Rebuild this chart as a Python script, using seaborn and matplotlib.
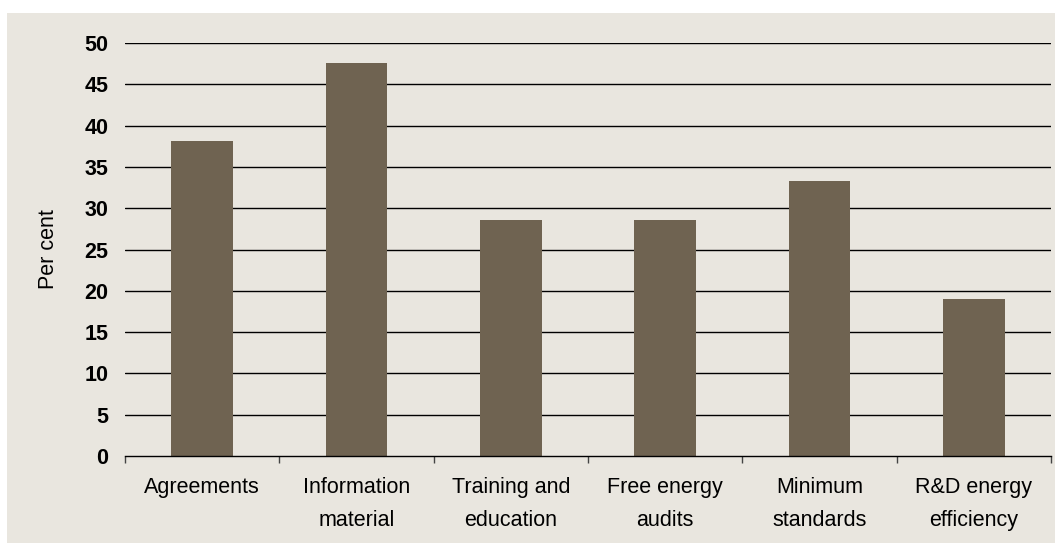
import numpy as np
import pandas as pd
import matplotlib
matplotlib.use("Agg")
import matplotlib.pyplot as plt
import seaborn as sns
from matplotlib.patches import Rectangle

categories = ["Agreements", "Information\nmaterial", "Training and\neducation",
              "Free energy\naudits", "Minimum\nstandards", "R&D energy\nefficiency"]
per_cent = [38.1, 47.6, 28.6, 28.6, 33.3, 19.0]
y_ticks = [0, 5, 10, 15, 20, 25, 30, 35, 40, 45, 50]

df = pd.DataFrame({"category": categories, "per_cent": per_cent})

sns.set_style("white")
plt.rcParams['font.family'] = ['Liberation Sans', 'DejaVu Sans']

bg = "#E9E6DF"
bar_col = "#6F6351"

fig = plt.figure(figsize=(10.55, 5.43), dpi=100, facecolor="white")
# beige panel behind the chart (top strip stays white)
fig.patches.append(Rectangle((7 / 1055, 0), 1, (543 - 13) / 543,
                             transform=fig.transFigure, facecolor=bg,
                             edgecolor="none", zorder=-10))

ax = fig.add_axes([125 / 1055, 1 - 456 / 543, (1051 - 125) / 1055, (456 - 43) / 543])
ax.set_facecolor("none")

sns.barplot(data=df, x="category", y="per_cent", color=bar_col, saturation=1,
            width=0.4, ax=ax, zorder=3, edgecolor="none", linewidth=0)

ax.set_ylim(0, 50)
ax.set_xlim(-0.5, len(categories) - 0.5)
ax.set_yticks(y_ticks)
ax.set_yticklabels([str(t) for t in y_ticks], fontsize=15.5, fontweight="bold", color="black")
for t in y_ticks[1:]:
    ax.axhline(t, color="black", lw=1.0, zorder=1)

ax.tick_params(axis="y", length=0, pad=12)
ax.tick_params(axis="x", which="major", length=0, pad=15, labelsize=15.5, labelcolor="black")
ax.set_xticks(np.arange(-0.5, len(categories)), minor=True)
ax.tick_params(axis="x", which="minor", bottom=True, length=5, width=1,
               color="#444444", direction="out")
for lab in ax.get_xticklabels():
    lab.set_linespacing(1.75)

ax.set_xlabel("")
ax.set_ylabel("Per cent", fontsize=15.5, color="black", labelpad=18)

for s in ["top", "right", "left"]:
    ax.spines[s].set_visible(False)
ax.spines["bottom"].set_color("black")
ax.spines["bottom"].set_linewidth(1.0)
ax.spines["bottom"].set_zorder(4)

fig.savefig("out.png", dpi=100, facecolor="white")
